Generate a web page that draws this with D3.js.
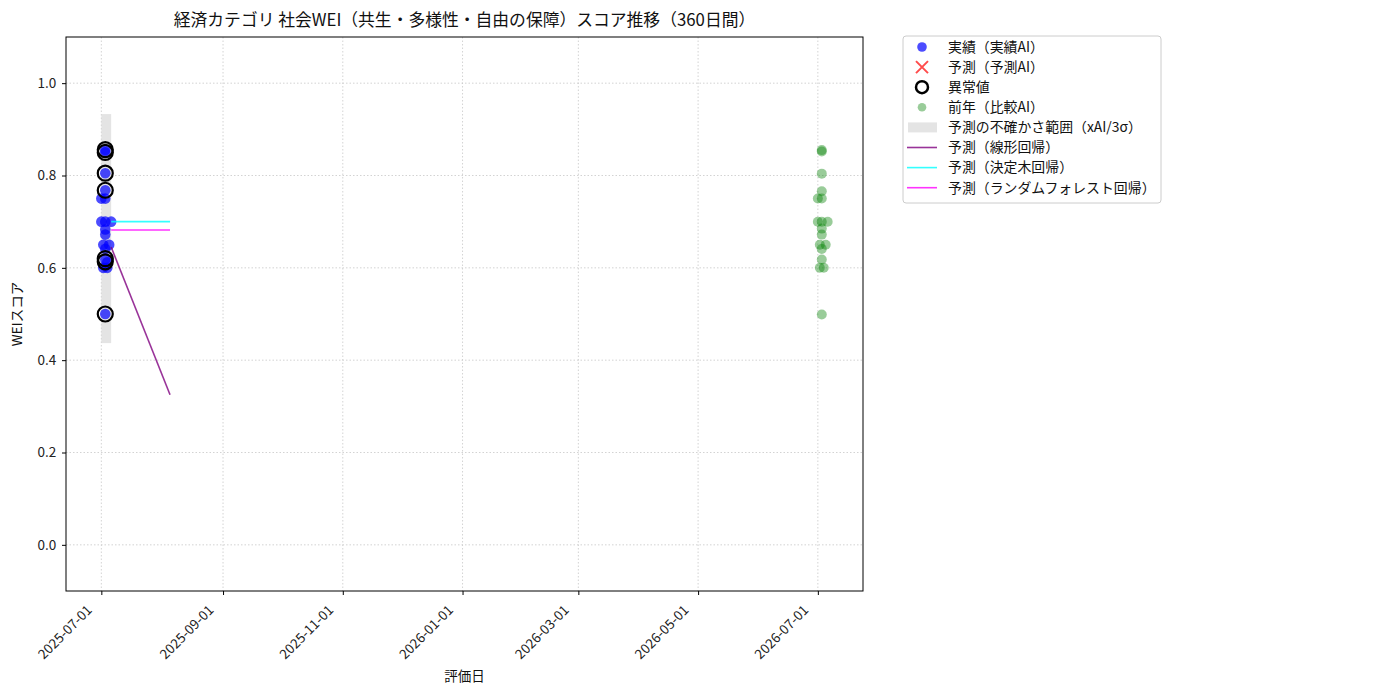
<!DOCTYPE html>
<html>
<head>
<meta charset="utf-8">
<script src="https://cdn.jsdelivr.net/npm/d3@7"></script>
<style>
  body { margin: 0; background: #fff; }
  text { font-family: "Noto Sans CJK JP", "DejaVu Sans", sans-serif; }
</style>
</head>
<body>
<svg id="chart"></svg>
<script>
const width = 1400;
const height = 700;
const margin = { top: 37, right: 537, bottom: 109, left: 66 };

// actual scores (this year)
const actualDates = ["2025-07-01", "2025-07-01", "2025-07-02", "2025-07-02", "2025-07-03", "2025-07-03",
    "2025-07-03", "2025-07-03", "2025-07-03", "2025-07-03", "2025-07-03", "2025-07-03", "2025-07-03",
    "2025-07-03", "2025-07-04", "2025-07-05", "2025-07-06", "2025-07-03", "2025-07-04"];
const actualValues = [0.75, 0.70, 0.65, 0.60, 0.855, 0.85, 0.805, 0.768, 0.75, 0.70,
    0.683, 0.672, 0.641, 0.618, 0.60, 0.65, 0.70, 0.50, 0.612];

// anomalies
const anomalyDates = ["2025-07-03", "2025-07-03", "2025-07-03", "2025-07-03", "2025-07-03", "2025-07-03", "2025-07-03"];
const anomalyValues = [0.856, 0.85, 0.805, 0.768, 0.62, 0.613, 0.50];

// previous year (comparison AI), shown one year later
const prevDates = ["2026-07-01", "2026-07-01", "2026-07-02", "2026-07-02", "2026-07-03", "2026-07-03",
    "2026-07-03", "2026-07-03", "2026-07-03", "2026-07-03", "2026-07-03", "2026-07-03", "2026-07-03",
    "2026-07-03", "2026-07-04", "2026-07-05", "2026-07-06", "2026-07-03"];
const prevValues = [0.75, 0.70, 0.65, 0.60, 0.855, 0.852, 0.804, 0.766, 0.75, 0.70,
    0.685, 0.672, 0.641, 0.618, 0.60, 0.65, 0.70, 0.499];

// uncertainty band
const bandDates = ["2025-07-01", "2025-07-06"];
const bandLow = [0.437, 0.437];
const bandHigh = [0.933, 0.933];

// forecasts
const forecastDates = ["2025-07-06", "2025-08-05"];
const linearValues = [0.645, 0.325];
const treeValues = [0.70, 0.70];
const forestValues = [0.682, 0.682];

const xTicks = ["2025-07-01", "2025-09-01", "2025-11-01", "2026-01-01", "2026-03-01", "2026-05-01", "2026-07-01"];
const yTicks = [0.0, 0.2, 0.4, 0.6, 0.8, 1.0];

const legendLabels = ["実績（実績AI）", "予測（予測AI）", "異常値", "前年（比較AI）",
    "予測の不確かさ範囲（xAI/3σ）", "予測（線形回帰）", "予測（決定木回帰）", "予測（ランダムフォレスト回帰）"];

const parseDate = d3.utcParse("%Y-%m-%d");

const svg = d3.select("#chart")
    .attr("width", width)
    .attr("height", height);

const xScale = d3.scaleUtc()
    .domain([parseDate("2025-06-13"), parseDate("2026-07-24")])
    .range([margin.left, width - margin.right]);

const yScale = d3.scaleLinear()
    .domain([-0.1, 1.1])
    .range([height - margin.bottom, margin.top]);

// grid
svg.append("g")
    .selectAll("line.vgrid")
    .data(xTicks)
    .enter()
    .append("line")
    .attr("x1", d => xScale(parseDate(d)))
    .attr("x2", d => xScale(parseDate(d)))
    .attr("y1", margin.top)
    .attr("y2", height - margin.bottom)
    .attr("stroke", "#c8c8c8")
    .attr("stroke-width", 0.8)
    .attr("stroke-dasharray", "1.5,2");

svg.append("g")
    .selectAll("line.hgrid")
    .data(yTicks)
    .enter()
    .append("line")
    .attr("x1", margin.left)
    .attr("x2", width - margin.right)
    .attr("y1", d => yScale(d))
    .attr("y2", d => yScale(d))
    .attr("stroke", "#c8c8c8")
    .attr("stroke-width", 0.8)
    .attr("stroke-dasharray", "1.5,2");

// band
svg.append("rect")
    .attr("x", xScale(parseDate(bandDates[0])))
    .attr("width", xScale(parseDate(bandDates[1])) - xScale(parseDate(bandDates[0])))
    .attr("y", yScale(bandHigh[0]))
    .attr("height", yScale(bandLow[0]) - yScale(bandHigh[0]))
    .attr("fill", "#d8d8d8")
    .attr("opacity", 0.7);

// actual points
svg.append("g")
    .selectAll("circle")
    .data(actualValues)
    .enter()
    .append("circle")
    .attr("cx", (d, i) => xScale(parseDate(actualDates[i])))
    .attr("cy", d => yScale(d))
    .attr("r", 5.3)
    .attr("fill", "blue")
    .attr("fill-opacity", 0.7);

// previous year
svg.append("g")
    .selectAll("circle")
    .data(prevValues)
    .enter()
    .append("circle")
    .attr("cx", (d, i) => xScale(parseDate(prevDates[i])))
    .attr("cy", d => yScale(d))
    .attr("r", 5)
    .attr("fill", "green")
    .attr("fill-opacity", 0.4);

// anomalies
svg.append("g")
    .selectAll("circle")
    .data(anomalyValues)
    .enter()
    .append("circle")
    .attr("cx", (d, i) => xScale(parseDate(anomalyDates[i])))
    .attr("cy", d => yScale(d))
    .attr("r", 7.5)
    .attr("fill", "none")
    .attr("stroke", "black")
    .attr("stroke-width", 2.2);

// forecast lines
const line = vals => d3.line()
    .x((d, i) => xScale(parseDate(forecastDates[i])))
    .y(d => yScale(d))(vals);

svg.append("path").attr("d", line(linearValues))
    .attr("fill", "none").attr("stroke", "purple").attr("stroke-opacity", 0.8).attr("stroke-width", 1.6);
svg.append("path").attr("d", line(treeValues))
    .attr("fill", "none").attr("stroke", "cyan").attr("stroke-opacity", 0.8).attr("stroke-width", 1.6);
svg.append("path").attr("d", line(forestValues))
    .attr("fill", "none").attr("stroke", "magenta").attr("stroke-opacity", 0.8).attr("stroke-width", 1.6);

// frame
svg.append("rect")
    .attr("x", margin.left)
    .attr("y", margin.top)
    .attr("width", width - margin.right - margin.left)
    .attr("height", height - margin.bottom - margin.top)
    .attr("fill", "none")
    .attr("stroke", "black")
    .attr("stroke-width", 1);

// axes
const xAxis = d3.axisBottom(xScale)
    .tickValues(xTicks.map(parseDate))
    .tickFormat(d3.utcFormat("%Y-%m-%d"))
    .tickSizeOuter(0)
    .tickSize(4);

const yAxis = d3.axisLeft(yScale)
    .tickValues(yTicks)
    .tickFormat(d3.format(".1f"))
    .tickSizeOuter(0)
    .tickSize(4);

const gx = svg.append("g")
    .attr("transform", `translate(0, ${height - margin.bottom})`)
    .call(xAxis);
gx.select(".domain").remove();
gx.selectAll("text")
    .attr("font-size", 13.5)
    .attr("fill", "#222")
    .attr("text-anchor", "end")
    .attr("x", 0)
    .attr("y", 0)
    .attr("dx", 0)
    .attr("dy", 0)
    .attr("transform", "translate(-9, 20) rotate(-45)");

const gy = svg.append("g")
    .attr("transform", `translate(${margin.left}, 0)`)
    .call(yAxis);
gy.select(".domain").remove();
gy.selectAll("text")
    .attr("font-size", 13.5)
    .attr("fill", "#222")
    .attr("dx", "-0.2em");

// labels
svg.append("text")
    .attr("x", (margin.left + width - margin.right) / 2)
    .attr("y", 26)
    .attr("text-anchor", "middle")
    .attr("font-size", 16.8)
    .attr("fill", "#111")
    .text("経済カテゴリ 社会WEI（共生・多様性・自由の保障）スコア推移（360日間）");

svg.append("text")
    .attr("x", (margin.left + width - margin.right) / 2)
    .attr("y", 681)
    .attr("text-anchor", "middle")
    .attr("font-size", 13.5)
    .attr("fill", "#111")
    .text("評価日");

svg.append("text")
    .attr("transform", `translate(22, ${(margin.top + height - margin.bottom) / 2}) rotate(-90)`)
    .attr("text-anchor", "middle")
    .attr("font-size", 13.5)
    .attr("fill", "#111")
    .text("WEIスコア");

// legend
const lg = svg.append("g").attr("transform", "translate(903, 36)");
lg.append("rect")
    .attr("width", 258)
    .attr("height", 167)
    .attr("rx", 3)
    .attr("fill", "white")
    .attr("stroke", "#ccc");

const rowY = i => 11 + i * 20.1;

lg.selectAll("text.lbl")
    .data(legendLabels)
    .enter()
    .append("text")
    .attr("x", 45)
    .attr("y", (d, i) => rowY(i))
    .attr("dy", "0.35em")
    .attr("font-size", 13.9)
    .attr("fill", "#111")
    .text(d => d);

lg.append("circle").attr("cx", 19).attr("cy", rowY(0)).attr("r", 4.8)
    .attr("fill", "blue").attr("fill-opacity", 0.7);
lg.append("path").attr("d", `M13,${rowY(1) - 6}L25,${rowY(1) + 6}M25,${rowY(1) - 6}L13,${rowY(1) + 6}`)
    .attr("stroke", "red").attr("stroke-opacity", 0.7).attr("stroke-width", 2);
lg.append("circle").attr("cx", 19).attr("cy", rowY(2)).attr("r", 6)
    .attr("fill", "none").attr("stroke", "black").attr("stroke-width", 2.5);
lg.append("circle").attr("cx", 19).attr("cy", rowY(3)).attr("r", 4.3)
    .attr("fill", "green").attr("fill-opacity", 0.4);
lg.append("rect").attr("x", 5).attr("y", rowY(4) - 5).attr("width", 29).attr("height", 10)
    .attr("fill", "#d8d8d8").attr("opacity", 0.7);
[["purple", 5], ["cyan", 6], ["magenta", 7]].forEach(([c, i]) => {
    lg.append("line").attr("x1", 4).attr("x2", 34).attr("y1", rowY(i)).attr("y2", rowY(i))
        .attr("stroke", c).attr("stroke-opacity", 0.8).attr("stroke-width", 1.6);
});
</script>
</body>
</html>
